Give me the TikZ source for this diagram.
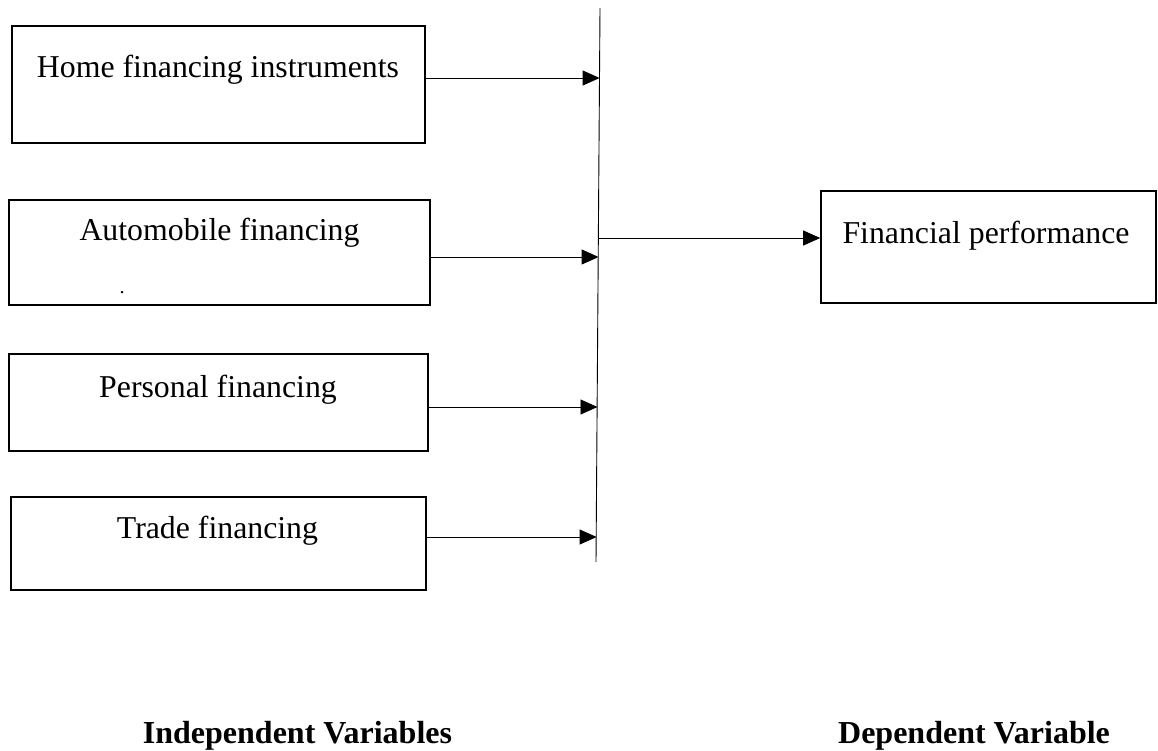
\documentclass[tikz,border=0pt]{standalone}
\usepackage{fontspec}
\setmainfont{Liberation Serif}
\usetikzlibrary{arrows.meta}
\begin{document}
\begin{tikzpicture}[x=1pt,y=-1pt,
  box/.style={draw,line width=1.6pt,rectangle,inner sep=0pt},
  txt/.style={anchor=base,inner sep=0pt,font=\fontsize{31.8}{36}\selectfont},
  lbl/.style={anchor=base,inner sep=0pt,font=\fontsize{32}{36}\selectfont\bfseries},
  arr/.style={line width=0.9pt,-{Triangle[length=17pt,width=15pt]}},
  ln/.style={line width=0.9pt}]
\useasboundingbox (0,0) rectangle (1158,750);
% boxes
\node[box,minimum width=413pt,minimum height=117pt] (b1) at (218.5,84.5) {};
\node[box,minimum width=421pt,minimum height=105pt] (b2) at (219.5,252.5) {};
\node[box,minimum width=419pt,minimum height=97pt] (b3) at (218.5,402.5) {};
\node[box,minimum width=415pt,minimum height=93pt] (b4) at (218.5,543.5) {};
\node[box,minimum width=335pt,minimum height=112pt] (b5) at (988.5,247) {};
% texts
\node[txt] (t1) at (218,77) {Home financing instruments};
\node[txt] (t2) at (219.5,240) {Automobile financing};
\node[txt,font=\fontsize{20}{24}\selectfont] (dot) at (122,293) {.};
\node[txt] (t3) at (218,397) {Personal financing};
\node[txt] (t4) at (217.5,538) {Trade financing};
\node[txt] (t5) at (986,243) {Financial performance};
\node[lbl] (l1) at (297.5,743) {Independent Variables};
\node[lbl] (l2) at (974,743) {Dependent Variable};
% vertical bar
\coordinate (vt) at (600,8);
\coordinate (vb) at (596,562);
\draw[ln] (vt) -- (vb);
% arrow tips on the bar
\coordinate (p1) at (599.6,78);
\coordinate (p2) at (598.6,257);
\coordinate (p3) at (597.5,407);
\coordinate (p4) at (596.6,537);
\coordinate (p5) at (598.9,238);
\draw[arr] (b1.east |- p1) -- (p1);
\draw[arr] (b2.east |- p2) -- (p2);
\draw[arr] (b3.east |- p3) -- (p3);
\draw[arr] (b4.east |- p4) -- (p4);
\draw[arr] (p5) -- (b5.west |- p5);
\end{tikzpicture}
\end{document}
